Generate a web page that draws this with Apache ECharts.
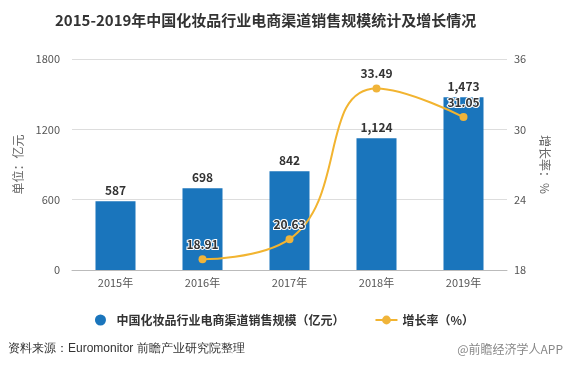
<!DOCTYPE html>
<html><head><meta charset="utf-8">
<script src="https://cdn.jsdelivr.net/npm/echarts@6/dist/echarts.min.js"></script>
<style>html,body{margin:0;padding:0;background:#fff}#c{width:569px;height:371px}</style>
</head><body><div id="c"></div>
<script>
const categories = ['2015年','2016年','2017年','2018年','2019年'];
const salesValues = [587, 698, 842, 1124, 1473];
const growthValues = [null, 18.91, 20.63, 33.49, 31.05];
const leftTicks = [0, 600, 1200, 1800];
const rightTicks = [18, 24, 30, 36];

const chart = echarts.init(document.getElementById('c'));
const font = '"Noto Sans CJK SC", "Microsoft YaHei", sans-serif';
chart.setOption({
  animation: false,
  textStyle: {fontFamily: font},
  title: {
    text: '2015-2019年中国化妆品行业电商渠道销售规模统计及增长情况',
    left: 50, top: 8,
    textStyle: {fontSize: 15, fontWeight: 'bold', color: '#333', fontFamily: font}
  },
  grid: {left: 72, right: 62, top: 59, bottom: 101},
  legend: {
    bottom: 40, left: 'center', itemGap: 30, itemWidth: 22, itemHeight: 11,
    textStyle: {fontSize: 12, color: '#333', fontWeight: 'bold'},
    data: [
      {name: '中国化妆品行业电商渠道销售规模（亿元）', icon: 'circle'},
      {name: '增长率（%）'}
    ]
  },
  graphic: [
    {type: 'text', left: 8, top: 343, style: {text: '资料来源：Euromonitor 前瞻产业研究院整理', fontSize: 12, fill: '#333', font: '12px ' + font}},
    {type: 'text', right: 6, top: 343, style: {text: '@前瞻经济学人APP', fill: '#888', font: '12px ' + font}}
  ],
  xAxis: {
    type: 'category', data: categories,
    axisLine: {lineStyle: {color: '#bbb'}},
    axisTick: {show: false},
    axisLabel: {color: '#555', fontSize: 11, margin: 7}
  },
  yAxis: [
    {
      type: 'value', min: leftTicks[0], max: leftTicks[leftTicks.length-1], interval: 600,
      name: '单位：亿元', nameLocation: 'middle', nameGap: 34, nameRotate: 90,
      nameTextStyle: {color: '#666', fontSize: 12},
      axisLine: {show: false}, axisTick: {show: false},
      axisLabel: {color: '#555', fontSize: 11, margin: 12, formatter: v => String(v)},
      splitLine: {lineStyle: {color: '#ddd'}}
    },
    {
      type: 'value', min: rightTicks[0], max: rightTicks[rightTicks.length-1], interval: 6,
      name: '增长率：%', nameLocation: 'middle', nameGap: 32, nameRotate: -90,
      nameTextStyle: {color: '#666', fontSize: 12},
      axisLine: {show: false}, axisTick: {show: false},
      axisLabel: {color: '#555', fontSize: 11, margin: 7},
      splitLine: {show: false}
    }
  ],
  series: [
    {
      name: '中国化妆品行业电商渠道销售规模（亿元）', type: 'bar', data: salesValues,
      barWidth: '46%', itemStyle: {color: '#1a75bc'},
      label: {show: true, position: 'top', color: '#333', fontWeight: 'bold', fontSize: 12,
        formatter: p => p.value.toLocaleString('en-US')}
    },
    {
      name: '增长率（%）', type: 'line', yAxisIndex: 1, data: growthValues, smooth: 0.5,
      symbol: 'circle', symbolSize: 8,
      lineStyle: {color: '#f2b430', width: 2}, itemStyle: {color: '#f0b43a'},
      label: {show: true, position: 'top', color: '#333', fontWeight: 'bold', fontSize: 12,
        textBorderColor: '#fff', textBorderWidth: 2, formatter: p => p.value.toFixed(2)}
    }
  ]
});
</script></body></html>
